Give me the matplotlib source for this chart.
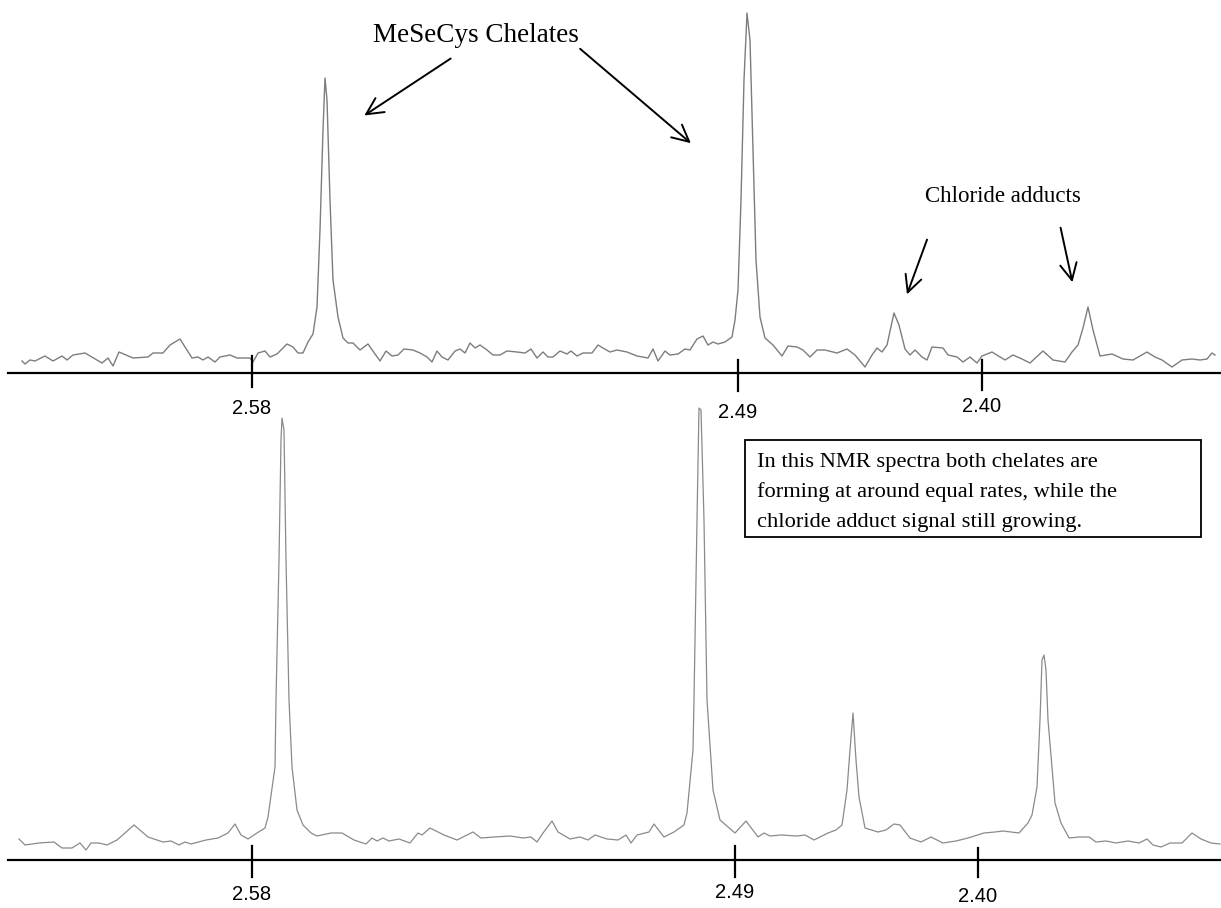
import matplotlib
matplotlib.use("Agg")
import matplotlib.pyplot as plt
from matplotlib.patches import Rectangle

# ---- data: position along the axis (px) and signal height above the axis (px) ----
TOP_BASE = 373
top_pos = [22, 25, 30, 35, 45, 53, 62, 67, 73, 85, 102, 108, 113, 119, 133, 148, 153, 163,
           170, 180, 192, 198, 203, 208, 215, 220, 230, 237, 243, 250, 253, 258, 265, 270,
           277, 287, 293, 298, 303, 308, 313, 317, 320, 323, 325, 327, 330, 333, 338, 343,
           348, 353, 360, 368, 375, 380, 386, 392, 398, 404, 413, 420, 427, 432, 437, 442,
           448, 455, 460, 465, 470, 475, 480, 487, 493, 500, 507, 517, 525, 531, 537, 543,
           548, 553, 560, 567, 571, 577, 583, 592, 598, 603, 610, 617, 627, 637, 648, 653,
           658, 665, 670, 678, 685, 690, 697, 703, 708, 713, 718, 725, 732, 735, 738, 741,
           744, 747, 750, 753, 756, 760, 765, 773, 782, 788, 797, 803, 810, 817, 825, 837,
           847, 855, 865, 872, 877, 882, 887, 894, 899, 905, 910, 915, 922, 927, 932, 943,
           948, 957, 963, 970, 977, 982, 992, 1000, 1005, 1013, 1022, 1030, 1043, 1053, 1065,
           1072, 1078, 1083, 1088, 1093, 1100, 1112, 1123, 1133, 1147, 1155, 1162, 1172, 1182,
           1192, 1200, 1207, 1212, 1215]
top_int = [12, 9, 13, 12, 17, 12, 17, 13, 18, 20, 10, 15, 7, 21, 15, 16, 20, 20,
           28, 34, 15, 16, 13, 16, 11, 16, 18, 15, 15, 15, 11, 20, 22, 16,
           19, 29, 26, 20, 20, 31, 39, 66, 143, 243, 295, 273, 173, 93, 56, 35,
           30, 30, 23, 29, 19, 12, 22, 17, 18, 24, 23, 20, 16, 11, 22, 16,
           13, 22, 24, 20, 30, 25, 28, 23, 18, 18, 22, 21, 20, 24, 15, 21,
           16, 16, 22, 19, 22, 17, 20, 20, 28, 25, 21, 23, 21, 17, 15, 24,
           12, 22, 18, 19, 24, 23, 34, 37, 28, 31, 29, 31, 36, 53, 83, 173,
           293, 360, 333, 223, 113, 56, 35, 28, 17, 27, 26, 23, 16, 23, 23, 20,
           24, 18, 6, 18, 25, 21, 28, 60, 48, 24, 18, 23, 16, 13, 26, 25,
           18, 16, 11, 16, 10, 17, 21, 16, 13, 18, 14, 10, 22, 13, 11,
           21, 28, 45, 66, 43, 17, 19, 14, 13, 21, 16, 13, 6, 13,
           14, 13, 14, 20, 18]

BOT_BASE = 860
bot_pos = [19, 25, 39, 54, 62, 72, 80, 86, 91, 99, 107, 117, 134, 148, 163, 171, 179, 185,
           191, 206, 218, 228, 235, 241, 248, 257, 265, 268, 275, 276, 279, 281, 282, 284,
           286, 289, 292, 297, 303, 311, 317, 331, 342, 354, 366, 372, 377, 383, 389, 399,
           410, 418, 422, 430, 444, 457, 473, 481, 494, 510, 523, 531, 537, 543, 552, 558,
           570, 580, 588, 595, 607, 618, 626, 631, 637, 649, 654, 664, 674, 684, 687, 693,
           694, 697, 699, 701, 704, 707, 713, 720, 735, 746, 758, 764, 770, 781, 797, 805,
           814, 828, 836, 842, 847, 850, 853, 856, 859, 865, 878, 886, 894, 900, 910, 921,
           931, 943, 956, 968, 984, 995, 1003, 1019, 1028, 1032, 1037, 1040, 1042, 1044, 1046,
           1048, 1055, 1061, 1069, 1079, 1089, 1096, 1106, 1116, 1128, 1139, 1147, 1153, 1161,
           1170, 1182, 1192, 1201, 1211, 1220]
bot_int = [21, 15, 17, 18, 12, 12, 17, 10, 17, 17, 15, 20, 35, 23, 18, 19, 15, 18,
           16, 20, 22, 27, 36, 25, 21, 27, 32, 43, 93, 160, 300, 420, 442, 430,
           300, 160, 93, 50, 35, 27, 24, 27, 27, 20, 16, 22, 19, 22, 19, 21,
           17, 27, 25, 32, 25, 20, 28, 22, 23, 24, 22, 23, 18, 27, 39, 28,
           21, 23, 20, 25, 21, 20, 25, 17, 25, 28, 36, 23, 28, 35, 47, 110,
           160, 340, 452, 450, 340, 160, 70, 40, 27, 39, 23, 27, 24, 25, 24, 25,
           20, 27, 30, 35, 70, 110, 147, 100, 63, 32, 28, 30, 36, 35, 22, 18,
           23, 17, 19, 22, 27, 28, 29, 27, 37, 45, 73, 140, 200, 205, 190,
           140, 57, 37, 22, 23, 23, 18, 19, 17, 19, 17, 21, 15, 13,
           17, 17, 27, 21, 17, 16]

tick_pos_top = [252, 738, 982]
tick_pos_bot = [252, 735, 978]
tick_labels = ["2.58", "2.49", "2.40"]

fig = plt.figure(figsize=(12.21, 9.08), dpi=100)
ax = fig.add_axes([0, 0, 1, 1])
ax.set_xlim(0, 1221)
ax.set_ylim(908, 0)
ax.axis("off")

# spectra
ax.plot(top_pos, [TOP_BASE - v for v in top_int], color="#7d7d7d", lw=1.0)
ax.plot(bot_pos, [BOT_BASE - v for v in bot_int], color="#8a8a8a", lw=0.9)

# axis lines with ticks
ax.plot([8, 1221], [TOP_BASE, TOP_BASE], color="black", lw=1.6)
ax.plot([8, 1221], [BOT_BASE, BOT_BASE], color="black", lw=1.6)
tick_font = dict(family="Liberation Sans", fontsize=14.5, ha="center", va="center")
top_ticks_y = [(356, 387, 409), (360, 391, 412), (360, 390, 407)]
for p, lab, (y0, y1, ly) in zip(tick_pos_top, tick_labels, top_ticks_y):
    ax.plot([p, p], [y0, y1], color="black", lw=1.6)
    ax.text(p, ly, lab, **tick_font)
bot_ticks_y = [(846, 877, 895), (846, 877, 893), (848, 877, 897)]
for p, lab, (y0, y1, ly) in zip(tick_pos_bot, tick_labels, bot_ticks_y):
    ax.plot([p, p], [y0, y1], color="black", lw=1.6)
    ax.text(p, ly, lab, **tick_font)

# annotations
serif = "Liberation Serif"
ax.text(476, 35, "MeSeCys Chelates", family=serif, fontsize=19.5, ha="center", va="center")
ax.text(1003, 197, "Chloride adducts", family=serif, fontsize=16.5, ha="center", va="center")

arrow = dict(arrowstyle="->", lw=1.4, color="black", mutation_scale=30)
ax.annotate("", xy=(362, 117), xytext=(453, 57), arrowprops=arrow)
ax.annotate("", xy=(693, 145), xytext=(578, 47), arrowprops=arrow)
ax.annotate("", xy=(906, 297), xytext=(928, 237), arrowprops=arrow)
ax.annotate("", xy=(1073, 285), xytext=(1060, 225), arrowprops=arrow)

ax.add_patch(Rectangle((745, 440), 456, 97, fill=False, edgecolor="black", lw=1.3))
box_lines = ["In this NMR spectra both chelates are",
             "forming at around equal rates, while the",
             "chloride adduct signal still growing."]
for i, line in enumerate(box_lines):
    ax.text(757, 462 + i * 30, line, family=serif, fontsize=16.2, ha="left", va="center")

fig.savefig("out.png", dpi=100)
